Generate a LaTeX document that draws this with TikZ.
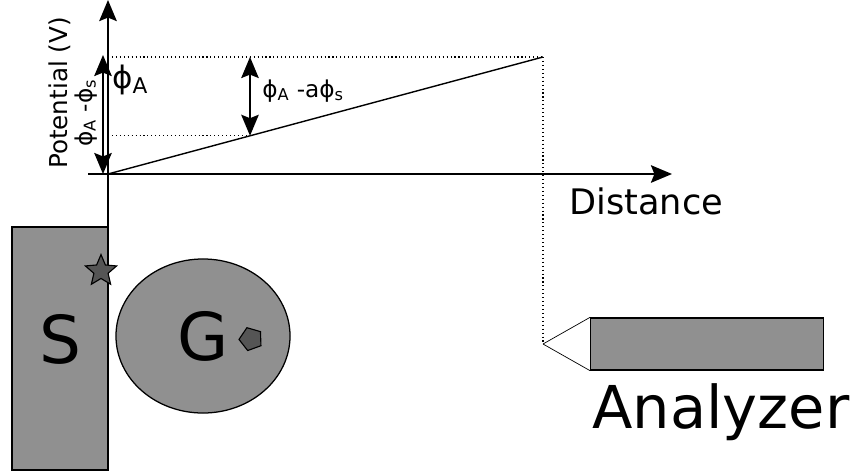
\documentclass[tikz,border=0pt]{standalone}
\usepackage{fontspec}
\setmainfont{DejaVu Sans}
\usetikzlibrary{arrows.meta,shapes.geometric}
\definecolor{bodygray}{HTML}{909090}
\definecolor{markgray}{HTML}{555555}

\begin{document}
\begin{tikzpicture}[
    x=0.025cm, y=-0.025cm,
    >={Stealth[length=15pt,width=12.5pt,inset=2.5pt]},
    axis/.style={->, line width=1.3pt},
    dimarrow/.style={<->, line width=1.1pt},
    guide/.style={dotted, line width=0.8pt},
    body/.style={
        draw,
        fill=bodygray,
        line width=0.9pt,
        inner sep=0pt
    },
    marker/.style={draw, fill=markgray, line width=0.8pt, inner sep=0pt},
    txt/.style={inner sep=0pt}
]
\useasboundingbox (0,0) rectangle (856,475);

% axes
\coordinate (origin) at (108,174);
\coordinate (ytop) at (108,0);
\coordinate (ybot) at (108,228);
\coordinate (xstart) at (88,174);
\coordinate (xend) at (672,174);
\draw[axis] (ybot) -- (ytop);
\draw[axis] (xstart) -- (xend);

\node[txt, rotate=90, anchor=base, font=\fontsize{17.5}{20}\selectfont] (potential) at (67,93) {Potential (V)};
\node[txt, anchor=base west, font=\fontsize{25}{28}\selectfont] (distance) at (569,214) {Distance};

% potential ramp
\coordinate (peak) at (543,57);
\coordinate (peakleft) at (108,57);
\coordinate (cut) at (250,135.8);
\coordinate (cutleft) at (108,135.8);
\coordinate (cuttop) at (250,57);
\draw[line width=1pt] (origin) -- (peak);
\draw[guide] (peakleft) -- (peak);
\draw[guide] (cutleft) -- (cut);
\draw[dimarrow] (cuttop) -- (cut);
\coordinate (ltop) at (103,55);
\coordinate (lbot) at (103,174);
\draw[dimarrow] (ltop) -- (lbot);

\node[txt, anchor=base west, font=\fontsize{22}{25}\selectfont] (phia) at (112,88) {ϕ\textsubscript{A}};
\node[txt, anchor=base west, font=\fontsize{16.5}{19}\selectfont] (diffa) at (262,97) {ϕ\textsubscript{A} -aϕ\textsubscript{s}};
\node[txt, rotate=90, anchor=base, font=\fontsize{16.5}{19}\selectfont] (diffs) at (92,113) {ϕ\textsubscript{A} -ϕ\textsubscript{s}};

% sample, gas, analyzer
\node[body, rectangle, minimum width=2.4cm, minimum height=6.075cm] (sample) at (60,348.5) {};
\node[txt, font=\fontsize{47}{50}\selectfont] (slabel) at (60,339) {S};
\node[marker, star, star points=5, star point ratio=2.2, minimum size=0.82cm] (star) at (101,271) {};
\node[body, ellipse, minimum width=4.35cm, minimum height=3.85cm, font=\fontsize{47}{50}\selectfont] (gas) at (203,336) {G\hspace{6pt}};
\node[marker, regular polygon, regular polygon sides=5, rotate=20, minimum size=0.6cm] (particle) at (251,339) {};

\node[body, rectangle, anchor=west, minimum width=5.825cm, minimum height=1.3cm] (analyzer) at (590,344) {};
\coordinate (tip) at (543,344);
\draw[guide] (peak) -- (tip);
\draw[line width=0.5pt] (tip) -- (analyzer.north west);
\draw[line width=0.5pt] (tip) -- (analyzer.south west);
\node[txt, anchor=base, font=\fontsize{42}{46}\selectfont] (analabel) at (721,428) {Analyzer};

\end{tikzpicture}
\end{document}
